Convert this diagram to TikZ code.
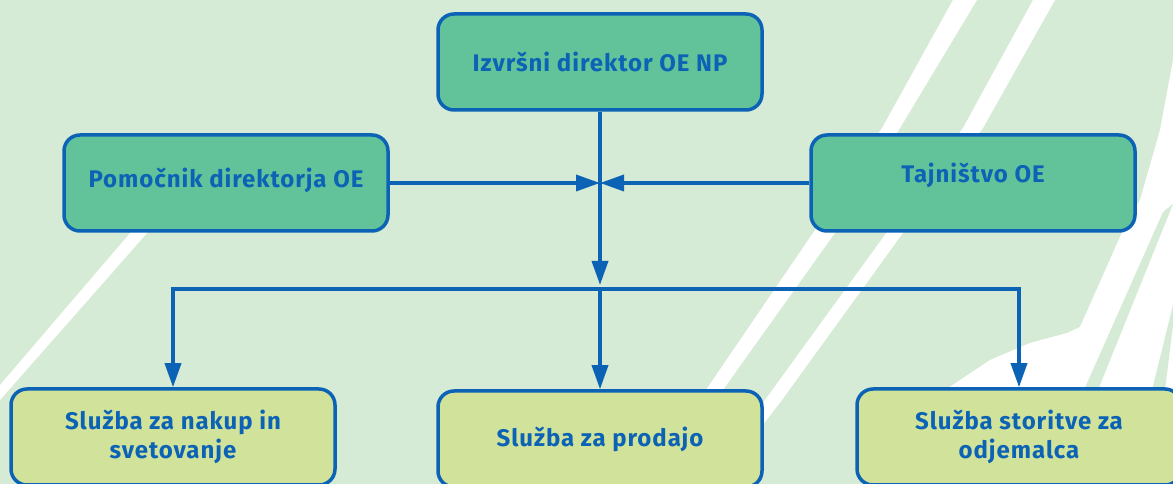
\documentclass[tikz,border=0pt]{standalone}
\usepackage{fontspec}
\setmainfont[LetterSpace=4]{Fira Sans}
\usetikzlibrary{arrows.meta}

\definecolor{oeblue}{RGB}{12,99,181}
\definecolor{oegreen}{RGB}{98,195,155}
\definecolor{oelime}{RGB}{209,227,155}
\definecolor{oebg}{RGB}{214,235,213}

\tikzset{
    orgbox/.style={draw=oeblue, line width=3.5pt, rounded corners=16pt,
        minimum width=324pt, minimum height=96pt, align=center, text=oeblue,
        font={\bfseries\fontsize{24}{29}\selectfont}},
    headbox/.style={orgbox, fill=oegreen},
    unitbox/.style={orgbox, fill=oelime},
    link/.style={draw=oeblue, line width=3.5pt, -{Triangle[length=24pt,width=16pt]}},
    streak/.style={fill=white},
}

\begin{document}
\begin{tikzpicture}[x=1pt, y=1pt]
                \useasboundingbox (0,0) rectangle (1173,484);
                \clip (0,0) rectangle (1173,484);
                \fill[oebg] (0,0) rectangle (1173,484);

                % white streaks in the background
                \fill[streak] (167,294) -- (185,294) -- (0,84) -- (0,99) -- cycle;
                \fill[streak]
                    (953,484) -- (882,356) -- (815,254) -- (708,97) -- (640,0)
                    -- (660,0) -- (725,97) -- (837,254) -- (900,356) -- (977,484) -- cycle;
                \fill[streak]
                    (1033,484) -- (963,356) -- (887,252) -- (765,84) -- (700,0)
                    -- (717,0) -- (782,84) -- (905,254) -- (983,356) -- (1055,484) -- cycle;
                \fill[streak]
                    (1173,424) -- (1160,354) -- (1140,284) -- (1123,254) -- (1080,157)
                    -- (1067,151) -- (1030,141) -- (990,124) -- (960,104) -- (945,94)
                    -- (1173,94) -- cycle;
                \fill[oebg] (1163,272) -- (1173,280) -- (1098,94) -- (1084,94) -- cycle;
                \fill[oebg] (1173,179) -- (1173,159) -- (1165,94) -- (1152,94) -- cycle;

                \node[headbox] (dir) at (600,422) {Izvršni direktor OE NP};
                \node[headbox] (pom) at (226,301) {\raisebox{10pt}{Pomočnik direktorja OE}};
                \node[headbox] (taj) at (973,301) {\raisebox{20pt}{Tajništvo OE}};

                \node[unitbox] (nak) at (173,47) {Služba za nakup in\\svetovanje};
                \node[unitbox] (prod) at (600,45) {Služba za prodajo};
                \node[unitbox] (stor) at (1019,47) {Služba storitve za\\odjemalca};

                \coordinate (mid) at (600,301);
                \coordinate (split) at (600,195);

                \draw[link, shorten >=4pt] (dir) -- (split);
                \draw[link] (pom) -- (mid);
                \draw[link] (taj) -- (mid);
                \draw[link] (split) -| (nak.north);
                \draw[link] (split) -- (prod);
                \draw[link] (split) -| (stor.north);
            \end{tikzpicture}
\end{document}
